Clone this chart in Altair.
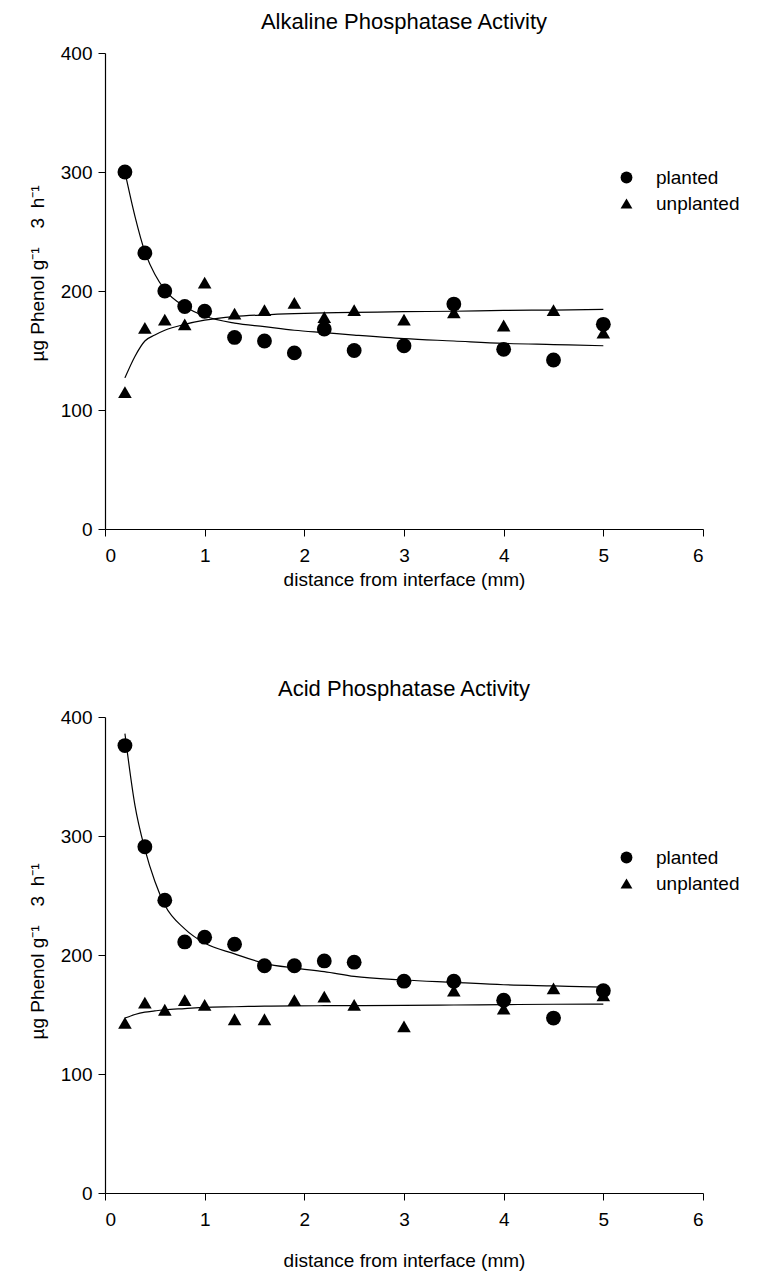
import altair as alt
import pandas as pd

# ---- data ----
series_names = ["planted", "unplanted"]
distance = [0.2, 0.4, 0.6, 0.8, 1.0, 1.3, 1.6, 1.9, 2.2, 2.5, 3.0, 3.5, 4.0, 4.5, 5.0]

alk_planted = [300, 232, 200, 187, 183, 161, 158, 148, 168, 150, 154, 189, 151, 142, 172]
alk_unplanted = [115, 169, 176, 172, 207, 181, 184, 190, 178, 184, 176, 182, 171, 184, 165]

acid_planted = [376, 291, 246, 211, 215, 209, 191, 191, 195, 194, 178, 178, 162, 147, 170]
acid_unplanted = [143, 160, 154, 162, 158, 146, 146, 162, 165, 158, 140, 170, 155, 172, 166]

# fitted curves
fit_x = [0.2, 0.3, 0.4, 0.5, 0.6, 0.8, 1.0, 1.3, 1.6, 1.9, 2.2, 2.5, 3.0, 3.5, 4.0, 4.5, 5.0]
alk_planted_fit = [300, 263, 233, 214, 201, 187, 179, 173, 170, 167, 165, 163, 160, 158, 156, 155, 154]
alk_unplanted_fit = [127, 145, 158, 163, 167, 172, 175.5, 178.5, 180, 181, 181.7, 182, 182.6, 183, 183.7, 184, 184.5]
acid_planted_fit = [386, 326, 289, 262, 242, 222, 210, 201, 193, 189, 186, 182, 179, 177, 175, 174, 173]
acid_unplanted_fit = [147, 150, 152, 153, 154, 155, 156, 156.5, 157, 157.2, 157.4, 157.5, 157.7, 158, 158.3, 158.6, 158.8]

x_ticks = [0, 1, 2, 3, 4, 5, 6]
y_ticks = [0, 100, 200, 300, 400]

FONT = "Liberation Sans"
PW, PH = 598, 476
Y_TITLE = "µg Phenol g⁻¹\u2002\u20023\u2002h⁻¹"


def panel(title, planted, unplanted, f_planted, f_unplanted, legend_y, title_offset, ytitle_y, xtitle_pad):
    pts = pd.DataFrame({
        "x": distance + distance,
        "y": planted + unplanted,
        "series": [series_names[0]] * len(distance) + [series_names[1]] * len(distance),
    })
    fit = pd.DataFrame({
        "x": fit_x + fit_x,
        "y": f_planted + f_unplanted,
        "series": [series_names[0]] * len(fit_x) + [series_names[1]] * len(fit_x),
    })
    xenc = alt.X("x:Q", scale=alt.Scale(domain=[0, 6], nice=False),
                 axis=alt.Axis(values=x_ticks, format="d", title="distance from interface (mm)",
                               titlePadding=xtitle_pad))
    yenc = alt.Y("y:Q", scale=alt.Scale(domain=[0, 400], nice=False),
                 axis=alt.Axis(values=y_ticks, format="d", title=Y_TITLE, titleY=ytitle_y))
    lines = alt.Chart(fit).mark_line(color="black", strokeWidth=1.2, interpolate="monotone").encode(
        x=xenc, y=yenc, detail="series:N")
    points = alt.Chart(pts).mark_point(filled=True, color="black", opacity=1).encode(
        x=xenc, y=yenc,
        shape=alt.Shape("series:N",
                        scale=alt.Scale(domain=series_names, range=["circle", "triangle-up"]),
                        legend=alt.Legend(title=None, orient="none", legendX=512, legendY=legend_y,
                                          symbolSize=140, symbolFillColor="black", symbolStrokeColor="black",
                                          labelFontSize=19, labelFont=FONT, labelColor="black",
                                          labelOffset=20, rowPadding=6, padding=0)),
        size=alt.Size("series:N", scale=alt.Scale(domain=series_names, range=[220, 185]), legend=None),
    )
    return alt.layer(lines, points).properties(
        width=PW, height=PH,
        title=alt.TitleParams(title, fontSize=22, font=FONT, fontWeight="normal", color="black",
                              offset=title_offset),
    )


top = panel("Alkaline Phosphatase Activity", alk_planted, alk_unplanted,
            alk_planted_fit, alk_unplanted_fit, 115, 10, 220, 5)
bottom = panel("Acid Phosphatase Activity", acid_planted, acid_unplanted,
               acid_planted_fit, acid_unplanted_fit, 131, 7, 234, 22)

chart = alt.vconcat(top, bottom, spacing=89).resolve_legend(shape="independent").properties(
    padding={"left": 20, "top": 3, "right": 5, "bottom": 2}
).configure_view(stroke=None).configure_axis(
    grid=False, domainColor="black", tickColor="black", labelColor="black", titleColor="black",
    labelFont=FONT, titleFont=FONT, labelFontSize=19, titleFontSize=19, titleFontWeight="normal",
    tickSize=7, labelPadding=6, domainWidth=1.2,
).configure_axisX(labelPadding=10).configure_axisY(titlePadding=13)

chart.save("out.html", embed_options={"renderer": "svg", "actions": False})
